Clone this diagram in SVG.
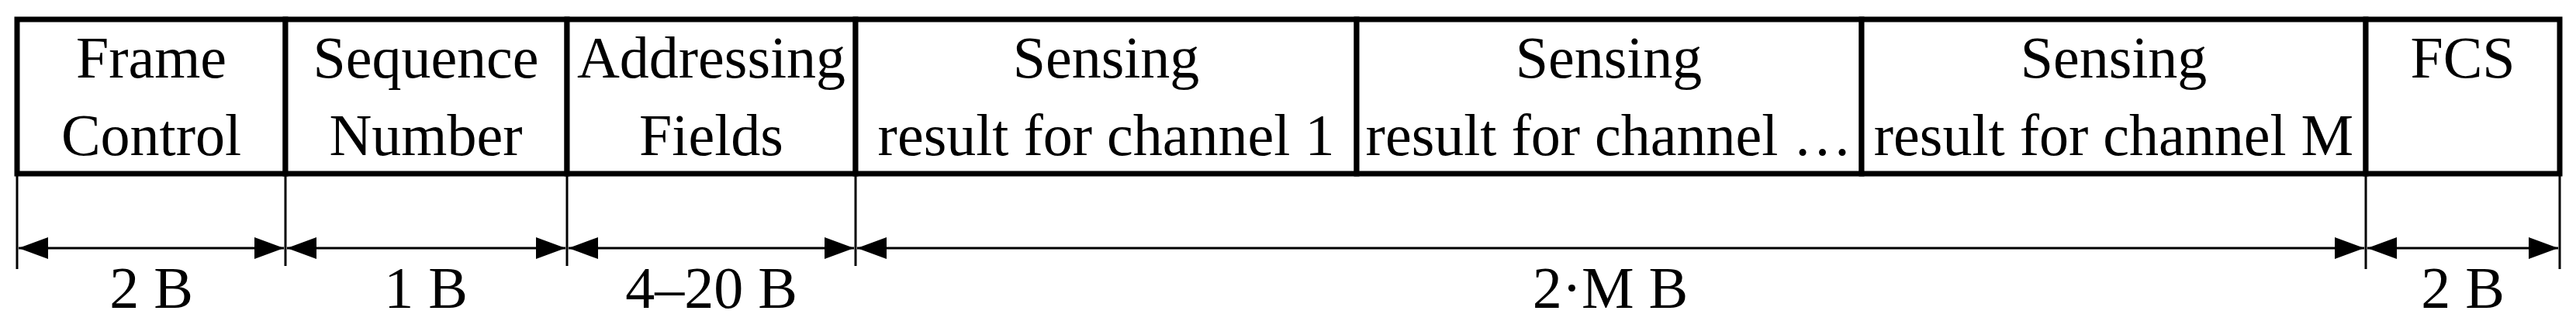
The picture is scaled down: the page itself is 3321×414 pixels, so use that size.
<svg xmlns="http://www.w3.org/2000/svg" width="3321" height="414" viewBox="0 0 3321 414">
<style>
text{font-family:"Liberation Serif","DejaVu Serif",serif;font-size:76px;fill:#000;text-anchor:middle}
.box{fill:#fff;stroke:#000;stroke-width:7}
.tick{stroke:#000;stroke-width:3}
.dim{stroke:#000;stroke-width:3;marker-start:url(#a);marker-end:url(#a)}
</style>
<defs>
<marker id="a" viewBox="0 0 38 28" refX="38" refY="14" markerWidth="38" markerHeight="28" markerUnits="userSpaceOnUse" orient="auto-start-reverse"><path d="M0,0L38,14L0,28Z" fill="#000"/></marker>
</defs>
<g id="fc"><rect class="box" x="22" y="25" width="346" height="199"/><text x="195" y="100">Frame</text><text x="195" y="200">Control</text></g>
<g id="sn"><rect class="box" x="368" y="25" width="363" height="199"/><text x="549" y="100">Sequence</text><text x="549" y="200">Number</text></g>
<g id="af"><rect class="box" x="731" y="25" width="372" height="199"/><text x="917" y="100">Addressing</text><text x="917" y="200">Fields</text></g>
<g id="s1"><rect class="box" x="1103" y="25" width="646" height="199"/><text x="1426" y="100">Sensing</text><text x="1426" y="200">result for channel 1</text></g>
<g id="s2"><rect class="box" x="1749" y="25" width="651" height="199"/><text x="2074" y="100">Sensing</text><text x="2074" y="200">result for channel …</text></g>
<g id="sm"><rect class="box" x="2400" y="25" width="650" height="199"/><text x="2725" y="100">Sensing</text><text x="2725" y="200">result for channel M</text></g>
<g id="fcs"><rect class="box" x="3050" y="25" width="250" height="199"/><text x="3175" y="100">FCS</text></g>
<g id="connectors">
<line class="tick" x1="22" y1="224" x2="22" y2="347"/>
<line class="tick" x1="368" y1="224" x2="368" y2="343"/>
<line class="tick" x1="731" y1="224" x2="731" y2="343"/>
<line class="tick" x1="1103" y1="224" x2="1103" y2="343"/>
<line class="tick" x1="3050" y1="224" x2="3050" y2="347"/>
<line class="tick" x1="3300" y1="224" x2="3300" y2="347"/>
<line class="dim" x1="24" y1="320" x2="366" y2="320"/>
<line class="dim" x1="370" y1="320" x2="729" y2="320"/>
<line class="dim" x1="733" y1="320" x2="1101" y2="320"/>
<line class="dim" x1="1105" y1="320" x2="3048" y2="320"/>
<line class="dim" x1="3052" y1="320" x2="3298" y2="320"/>
</g>
<g id="labels">
<text x="195" y="397">2 B</text><text x="549" y="397">1 B</text><text x="917" y="397">4–20 B</text><text x="2076" y="397">2·M B</text><text x="3175" y="397">2 B</text>
</g>
</svg>
